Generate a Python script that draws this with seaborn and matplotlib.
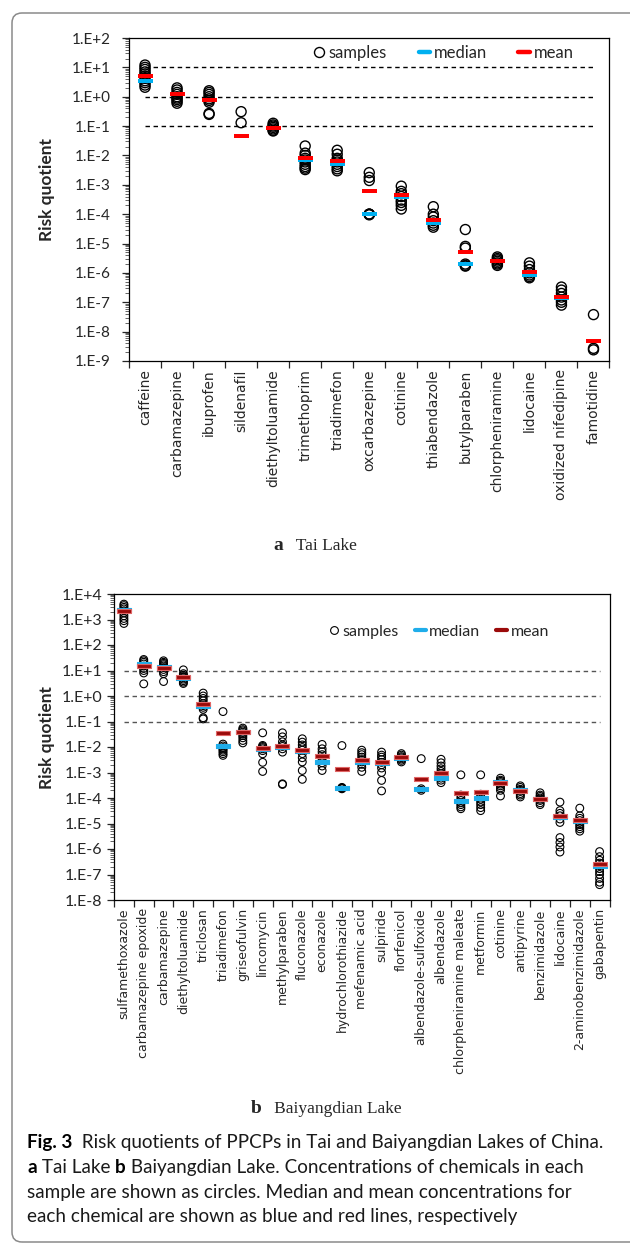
"""
Risk quotients of PPCPs in Tai Lake and Baiyangdian Lake (Fig. 3 recreation).
"""
import matplotlib
matplotlib.use('Agg')
import matplotlib.pyplot as plt
import seaborn as sns
import numpy as np
import pandas as pd
from matplotlib.lines import Line2D
from matplotlib.patches import FancyBboxPatch
from matplotlib.transforms import IdentityTransform
from matplotlib.ticker import LogLocator, FuncFormatter, NullFormatter

sns.set_style("white")
plt.rcParams['font.family'] = ['Lato', 'DejaVu Sans']
plt.rcParams['axes.edgecolor'] = 'black'
plt.rcParams['axes.linewidth'] = 0.9

nan = np.nan

# ---- Tai Lake
tai_names = ['caffeine', 'carbamazepine', 'ibuprofen', 'sildenafil', 'diethyltoluamide',
             'trimethoprim', 'triadimefon', 'oxcarbazepine', 'cotinine', 'thiabendazole',
             'butylparaben', 'chlorpheniramine', 'lidocaine', 'oxidized nifedipine', 'famotidine']
tai_samples = [
    [12, 10, 8.5, 7, 6, 5, 4.2, 3.5, 3, 2.5, 2.1],
    [2.0, 1.7, 1.4, 1.2, 1.0, 0.9, 0.8, 0.7, 0.6],
    [1.6, 1.4, 1.2, 1.0, 0.85, 0.75, 0.65, 0.27, 0.25],
    [0.31, 0.13],
    [0.125, 0.11, 0.1, 0.09, 0.08, 0.072, 0.068],
    [0.021, 0.012, 0.01, 0.008, 0.007, 0.006, 0.005, 0.0042, 0.0037, 0.0033],
    [0.015, 0.011, 0.008, 0.007, 0.006, 0.005, 0.0042, 0.0035, 0.003],
    [0.0026, 0.0018, 0.0014, 1.0e-4, 1.0e-4, 9.5e-5, 1.0e-4],
    [9e-4, 6e-4, 5e-4, 4e-4, 3e-4, 2.5e-4, 2e-4, 1.5e-4],
    [1.8e-4, 1.0e-4, 8e-5, 6e-5, 5e-5, 4.2e-5, 3.6e-5],
    [3e-5, 8e-6, 7e-6, 2e-6, 1.8e-6, 1.7e-6],
    [3.5e-6, 3.1e-6, 2.8e-6, 2.5e-6, 2.2e-6, 2e-6, 1.8e-6],
    [2.2e-6, 1.7e-6, 1.3e-6, 1.0e-6, 8.5e-7, 7.5e-7, 6.8e-7],
    [3.3e-7, 2.6e-7, 2e-7, 1.5e-7, 1.2e-7, 1e-7, 8e-8],
    [3.8e-8, 2.7e-9, 2.4e-9],
]
tai_median = [3.4, 1.2, 0.8, nan, 0.085, 0.0072, 0.0052, 1e-4, 4e-4, 5.1e-5,
              2e-6, 2.5e-6, 8.5e-7, 1.4e-7, nan]
tai_mean = [5.0, 1.23, 0.75, 0.046, 0.087, 0.0079, 0.0064, 6.3e-4, 4.4e-4, 6.3e-5,
            5.1e-6, 2.5e-6, 1.05e-6, 1.5e-7, 4.7e-9]

# ---- Baiyangdian Lake
bya_names = ['sulfamethoxazole', 'carbamazepine epoxide', 'carbamazepine', 'diethyltoluamide',
             'triclosan', 'triadimefon', 'griseofulvin', 'lincomycin', 'methylparaben',
             'fluconazole', 'econazole', 'hydrochlorothiazide', 'mefenamic acid', 'sulpiride',
             'florfenicol', 'albendazole-sulfoxide', 'albendazole', 'chlorpheniramine maleate',
             'metformin', 'cotinine', 'antipyrine', 'benzimidazole', 'lidocaine',
             '2-aminobenzimidazole', 'gabapentin']
bya_samples = [
    [4000, 3500, 3000, 2600, 2200, 1800, 1400, 1100, 900, 700],
    [27, 24, 21, 18, 15, 12, 10, 8, 3.0],
    [24, 21, 19, 17, 15, 13, 11, 9, 7.5, 3.7],
    [10.6, 7.5, 6.5, 5.8, 5.2, 4.6, 4.0, 3.5, 3.1],
    [1.3, 1.0, 0.8, 0.65, 0.5, 0.42, 0.36, 0.3, 0.14, 0.126],
    [0.245, 0.013, 0.011, 0.0095, 0.0085, 0.0075, 0.0065, 0.0055, 0.0047],
    [0.055, 0.048, 0.043, 0.038, 0.033, 0.028, 0.023, 0.018, 0.0145],
    [0.036, 0.0115, 0.0105, 0.0095, 0.0085, 0.0072, 0.0054, 0.0025, 0.0011],
    [0.036, 0.025, 0.016, 0.012, 0.0105, 0.0085, 0.0063, 0.00036, 0.00034],
    [0.021, 0.0155, 0.012, 0.0095, 0.0075, 0.0055, 0.0038, 0.0026, 0.0012, 0.00054],
    [0.0126, 0.0085, 0.0065, 0.005, 0.0038, 0.003, 0.0024, 0.0018, 0.0012],
    [0.0114, 2.6e-4, 2.5e-4, 2.4e-4, 2.3e-4],
    [0.0075, 0.006, 0.005, 0.004, 0.0032, 0.0026, 0.0021, 0.0016, 0.0011],
    [0.0063, 0.0048, 0.004, 0.0032, 0.0025, 0.002, 0.0015, 0.001, 4.9e-4, 1.9e-4],
    [0.0055, 0.0048, 0.0042, 0.0038, 0.0034, 0.003, 0.0026],
    [0.0035, 2.3e-4, 2.0e-4],
    [0.0033, 0.0024, 0.0018, 0.0014, 0.0011, 9e-4, 7e-4, 6e-4, 5e-4, 4e-4],
    [8.1e-4, 1.3e-4, 1.0e-4, 8e-5, 6.5e-5, 5.5e-5, 4.5e-5, 3.8e-5],
    [8.1e-4, 1.4e-4, 1.1e-4, 9e-5, 7e-5, 5.5e-5, 4.2e-5, 3.2e-5],
    [6e-4, 5e-4, 4.5e-4, 4e-4, 3.5e-4, 3e-4, 2.5e-4, 2e-4, 1.2e-4],
    [3e-4, 2.6e-4, 2.2e-4, 2e-4, 1.8e-4, 1.5e-4, 1.3e-4, 1.1e-4],
    [1.6e-4, 1.3e-4, 1.15e-4, 1e-4, 9e-5, 8e-5, 6.5e-5, 5.5e-5],
    [6.9e-5, 3.2e-5, 2.5e-5, 2e-5, 1.5e-5, 1.1e-5, 2.8e-6, 1.8e-6, 1.2e-6, 7.6e-7],
    [4e-5, 2e-5, 1.6e-5, 1.3e-5, 1.1e-5, 9e-6, 7.5e-6, 6.2e-6, 5e-6],
    [7.9e-7, 5e-7, 3.6e-7, 2.8e-7, 2.2e-7, 1.7e-7, 1.3e-7, 1e-7, 7e-8, 5e-8, 4e-8],
]
bya_median = [2450, 17.8, 14.3, 5.0, 0.40, 0.0112, 0.040, 0.0085, 0.010, 0.0067,
              0.0027, 2.4e-4, 0.0027, 0.0023, 0.0037, 2.2e-4, 6.0e-4, 7.8e-5, 1.0e-4,
              4.2e-4, 2.0e-4, 9.5e-5, 1.8e-5, 1.2e-5, 2.2e-7]
bya_mean = [2240, 15.7, 13.0, 5.5, 0.47, 0.036, 0.038, 0.0093, 0.0105, 0.0078,
            0.0043, 1.35e-3, 0.0032, 0.0025, 0.0039, 5.4e-4, 1.0e-3, 1.55e-4, 1.65e-4,
            4.0e-4, 1.95e-4, 9.3e-5, 2.0e-5, 1.35e-5, 2.5e-7]

thresholds = [10, 1, 0.1]

# flat bar marker for median / mean
BAR = [(-1, -0.33), (1, -0.33), (1, 0.33), (-1, 0.33), (-1, -0.33)]

W_PX, H_PX = 630, 1244


def draw_panel(ax, names, samples, median, mean, ylim, st):
    df = pd.DataFrame({'chemical': np.repeat(names, [len(s) for s in samples]),
                       'rq': np.concatenate(samples)})
    stats = pd.DataFrame({'chemical': names, 'median': median, 'mean': mean})

    n0 = len(ax.collections)
    sns.stripplot(data=df, x='chemical', y='rq', order=names, jitter=False,
                  size=st['circle'], linewidth=st['circle_lw'], color='black',
                  zorder=2, ax=ax)
    for c in ax.collections[n0:]:
        c.set_facecolor('none')
        c.set_edgecolor('black')

    for col, fc, ec, z in [('median', st['median'], st['median'], 3),
                           ('mean', st['mean'], st['mean_edge'], 4)]:
        n0 = len(ax.collections)
        sns.stripplot(data=stats, x='chemical', y=col, order=names, jitter=False,
                      marker=BAR, size=st['bar'], linewidth=0, color=fc, zorder=z, ax=ax)
        for c in ax.collections[n0:]:
            c.set_facecolor(fc)
            c.set_edgecolor(ec)
            c.set_linewidth(st['bar_lw'])

    n = len(names)
    ax.hlines(thresholds, 0, n - 1, colors=st['hline'], linestyles=(0, (3.2, 2.6)),
              lw=1, zorder=1)

    ax.set_yscale('log')
    ax.set_ylim(*ylim)
    ax.set_xlim(-0.5, n - 0.5)
    ax.yaxis.set_major_locator(LogLocator(base=10, numticks=30))
    ax.yaxis.set_minor_locator(LogLocator(base=10, subs=np.arange(2, 10), numticks=30))
    ax.yaxis.set_minor_formatter(NullFormatter())
    ax.yaxis.set_major_formatter(
        FuncFormatter(lambda v, p: f"1.E{int(round(np.log10(v))):+d}"))
    ax.tick_params(axis='y', which='major', left=True, direction='out', length=5,
                   width=0.9, labelsize=st['ylab'], pad=st['ypad'])
    ax.tick_params(axis='y', which='minor', left=True, direction='out', length=3, width=0.5)

    # tick marks between categories, labels at the centers
    ax.set_xticks(np.arange(n + 1) - 0.5)
    ax.set_xticklabels([])
    ax.set_xticks(np.arange(n), minor=True)
    ax.set_xticklabels(names, minor=True, rotation=90, fontsize=st['xlab'],
                       family='DejaVu Sans')
    ax.tick_params(axis='x', which='major', bottom=True, direction='out', length=5, width=0.9)
    ax.tick_params(axis='x', which='minor', bottom=True, length=0, pad=6)
    ax.set_xlabel('')

    ax.set_ylabel('Risk quotient', fontsize=12.5, weight='bold')
    ax.yaxis.set_label_coords(st['ylabel_x'], 0.53)
    for s in ax.spines.values():
        s.set_visible(True)
        s.set_color('black')

    handles = [
        Line2D([], [], ls='none', marker='o', mfc='none', mec='black',
               ms=st['circle'], mew=st['circle_lw'], label='samples'),
        Line2D([], [], color=st['median'], lw=st['leg_lw'], label='median'),
        Line2D([], [], color=st['mean'], lw=st['leg_lw'], label='mean'),
    ]
    ax.legend(handles=handles, ncol=3, frameon=False, loc='center right',
              bbox_to_anchor=st['leg_anchor'], borderaxespad=0, borderpad=0,
              handlelength=0.7, handletextpad=0.2, columnspacing=st['colspace'],
              fontsize=st['leg_fs'])


def text_runs(fig, x_px, y_px, runs, center=False):
    r = fig.canvas.get_renderer()
    items = []
    x = x_px
    for s, kw in runs:
        t = fig.text(x / W_PX, 1 - y_px / H_PX, s, ha='left', va='baseline', **kw)
        x += t.get_window_extent(r).width
        items.append(t)
    if center:
        shift = (x - x_px) / 2
        for t in items:
            t.set_x(t.get_position()[0] - shift / W_PX)
    return items


fig = plt.figure(figsize=(W_PX / 100, H_PX / 100), dpi=100)
fig.patch.set_facecolor('white')

ax1 = fig.add_axes([129 / W_PX, 1 - 361 / H_PX, 480.5 / W_PX, 323 / H_PX])
ax2 = fig.add_axes([114 / W_PX, 1 - 900 / H_PX, 495.5 / W_PX, 306 / H_PX])

tai_style = dict(circle=7.2, circle_lw=1.0, bar=10.8, bar_lw=0, median='#00B0F0',
                 mean='#FF0000', mean_edge='#FF0000', hline='black', ylab=11, ypad=8,
                 xlab=10, ylabel_x=(55 - 129) / 480.5, leg_anchor=(0.925, 0.953),
                 leg_lw=3.2, leg_fs=12, colspace=1.9)
bya_style = dict(circle=5.6, circle_lw=0.8, bar=9.4, bar_lw=0.8, median='#1FADEA',
                 mean='#9B0A0A', mean_edge='#E06666', hline='#555555', ylab=11.5, ypad=3.5,
                 xlab=9, ylabel_x=(55 - 114) / 495.5, leg_anchor=(0.878, 0.876),
                 leg_lw=3.0, leg_fs=11.5, colspace=1.0)

draw_panel(ax1, tai_names, tai_samples, tai_median, tai_mean, (1e-9, 1e2), tai_style)
draw_panel(ax2, bya_names, bya_samples, bya_median, bya_mean, (1e-8, 1e4), bya_style)

# panel captions
serif = ['Liberation Serif', 'DejaVu Serif']
text_runs(fig, 315, 550, [('a', dict(family=serif, weight='bold', fontsize=14)),
                          ('   Tai Lake', dict(family=serif, fontsize=12.5))], center=True)
text_runs(fig, 326, 1113, [('b', dict(family=serif, weight='bold', fontsize=14)),
                           ('   Baiyangdian Lake', dict(family=serif, fontsize=12.5))],
          center=True)

# figure caption
cap = dict(fontsize=13.6, color='#1a1a1a')
capb = dict(fontsize=13.6, color='black', weight='bold')
text_runs(fig, 27, 1148, [('Fig. 3', capb),
                          ('  Risk quotients of PPCPs in Tai and Baiyangdian Lakes of China.', cap)])
text_runs(fig, 27, 1173, [('a', capb), (' Tai Lake ', cap), ('b', capb),
                          (' Baiyangdian Lake. Concentrations of chemicals in each', cap)])
text_runs(fig, 27, 1198, [('sample are shown as circles. Median and mean concentrations for', cap)])
text_runs(fig, 27, 1222, [('each chemical are shown as blue and red lines, respectively', cap)])

# rounded frame around the whole figure (right side runs off the page)
frame = FancyBboxPatch((12, 2), 660, 1229, boxstyle='round,pad=0,rounding_size=10',
                       transform=IdentityTransform(), fill=False, ec='#8a8a8a', lw=1.1)
fig.add_artist(frame)

fig.savefig('out.png', dpi=100)
plt.close(fig)
